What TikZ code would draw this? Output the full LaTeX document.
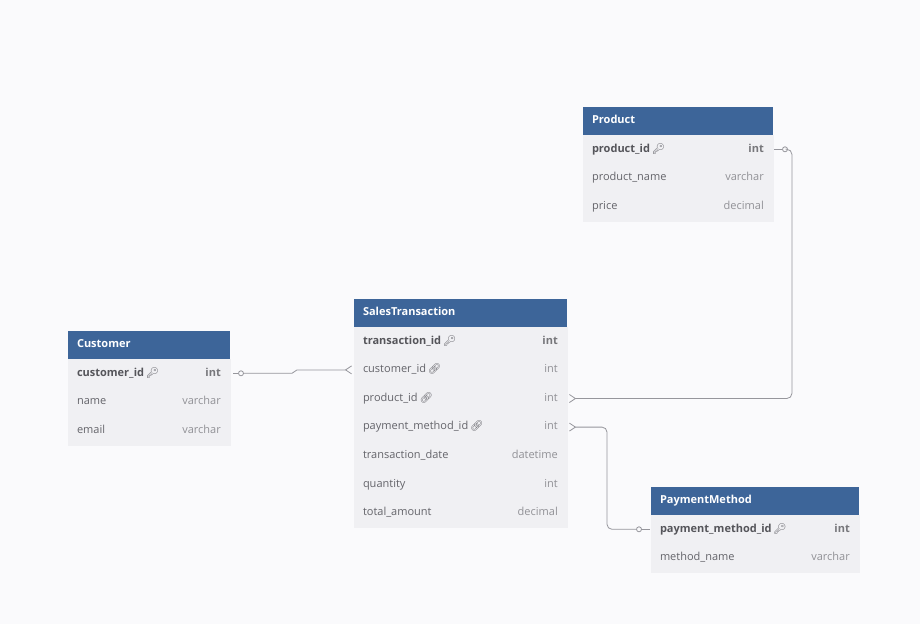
\documentclass[tikz,border=0pt]{standalone}
\usepackage{fontspec}
\setmainfont{Open Sans}
\newfontfamily\emojifont{Noto Emoji}
\usetikzlibrary{arrows.meta, positioning, calc}
\definecolor{HeadBlue}{RGB}{61, 101, 153}
\definecolor{RowGray}{RGB}{240, 240, 243}
\definecolor{PageBg}{RGB}{250, 250, 252}
\definecolor{NameGray}{RGB}{100, 100, 106}
\definecolor{KeyGray}{RGB}{85, 85, 90}
\definecolor{TypeGray}{RGB}{145, 145, 150}
\definecolor{LineGray}{RGB}{150, 150, 156}
\newcommand{\pkicon}{\,{\emojifont\fontsize{10.5}{10.5}\selectfont\color{NameGray}🔑}}
\newcommand{\fkicon}{\,{\emojifont\fontsize{10.5}{10.5}\selectfont\color{NameGray}🔗}}

\begin{document}
\begin{tikzpicture}[x=1pt, y=-1pt,
    every node/.style={font=\fontsize{11}{13}\selectfont},
    tblhead/.style={fill=HeadBlue, text=white, font=\fontsize{11}{13}\selectfont\bfseries, anchor=north west, minimum height=28pt, inner xsep=9pt, inner ysep=0pt, outer sep=0pt, align=left, text height=8pt, text depth=2.5pt, text width=#1},
    tblrow/.style={fill=RowGray, draw=RowGray, line width=0.6pt, text=NameGray, anchor=north west, minimum height=28.6pt, inner xsep=9pt, inner ysep=0pt, outer sep=0pt, align=left, text height=8pt, text depth=2.5pt, text width=#1},
    pkrow/.style={tblrow=#1, text=KeyGray, font=\fontsize{11}{13}\selectfont\bfseries},
    ftype/.style={text=TypeGray, anchor=base east, inner sep=0pt},
    pktype/.style={ftype, text=KeyGray!80, font=\fontsize{11}{13}\selectfont\bfseries},
    ocirc/.style={circle, draw=LineGray, fill=PageBg, line width=0.8pt, inner sep=0pt, minimum size=5pt},
    rel/.style={draw=LineGray, line width=0.8pt},
    crowend/.style={-{Straight Barb[reversed, length=6pt, width=8pt]}},
    crowstart/.style={{Straight Barb[reversed, length=6pt, width=8pt]}-}
]
\fill[PageBg] (0,0) rectangle (920,624);
\useasboundingbox (0,0) rectangle (920,624);

% Product
\node[tblhead=172pt] (prod) at (583,107) {Product};
\node[pkrow=172pt] (prod1) at (prod.south west) {product\_id\pkicon};
\node[tblrow=172pt] (prod2) at (prod1.south west) {product\_name};
\node[tblrow=172pt] (prod3) at (prod2.south west) {price};
\node[pktype] (prod1t) at ([xshift=-9pt]prod1.base east) {int};
\node[ftype] (prod2t) at ([xshift=-9pt]prod2.base east) {varchar};
\node[ftype] (prod3t) at ([xshift=-9pt]prod3.base east) {decimal};

% Customer
\node[tblhead=144pt] (cust) at (68,331) {Customer};
\node[pkrow=144pt] (cust1) at (cust.south west) {customer\_id\pkicon};
\node[tblrow=144pt] (cust2) at (cust1.south west) {name};
\node[tblrow=144pt] (cust3) at (cust2.south west) {email};
\node[pktype] (cust1t) at ([xshift=-9pt]cust1.base east) {int};
\node[ftype] (cust2t) at ([xshift=-9pt]cust2.base east) {varchar};
\node[ftype] (cust3t) at ([xshift=-9pt]cust3.base east) {varchar};

% SalesTransaction
\node[tblhead=195pt] (sale) at (354,299) {SalesTransaction};
\node[pkrow=195pt] (sale1) at (sale.south west) {transaction\_id\pkicon};
\node[tblrow=195pt] (sale2) at (sale1.south west) {customer\_id\fkicon};
\node[tblrow=195pt] (sale3) at (sale2.south west) {product\_id\fkicon};
\node[tblrow=195pt] (sale4) at (sale3.south west) {payment\_method\_id\fkicon};
\node[tblrow=195pt] (sale5) at (sale4.south west) {transaction\_date};
\node[tblrow=195pt] (sale6) at (sale5.south west) {quantity};
\node[tblrow=195pt] (sale7) at (sale6.south west) {total\_amount};
\node[pktype] (sale1t) at ([xshift=-9pt]sale1.base east) {int};
\node[ftype] (sale2t) at ([xshift=-9pt]sale2.base east) {int};
\node[ftype] (sale3t) at ([xshift=-9pt]sale3.base east) {int};
\node[ftype] (sale4t) at ([xshift=-9pt]sale4.base east) {int};
\node[ftype] (sale5t) at ([xshift=-9pt]sale5.base east) {datetime};
\node[ftype] (sale6t) at ([xshift=-9pt]sale6.base east) {int};
\node[ftype] (sale7t) at ([xshift=-9pt]sale7.base east) {decimal};

% PaymentMethod
\node[tblhead=190pt] (pay) at (651,487) {PaymentMethod};
\node[pkrow=190pt] (pay1) at (pay.south west) {payment\_method\_id\pkicon};
\node[tblrow=190pt] (pay2) at (pay1.south west) {method\_name};
\node[pktype] (pay1t) at ([xshift=-9pt]pay1.base east) {int};
\node[ftype] (pay2t) at ([xshift=-9pt]pay2.base east) {varchar};

% relations
\node[ocirc] (c1) at ([xshift=11pt]cust1.east) {};
\node[ocirc] (c2) at ([xshift=12pt]prod1.east) {};
\node[ocirc] (c3) at ([xshift=-12pt]pay1.west) {};
\draw[rel] ([xshift=3pt]cust1.east) -- (c1.west);
\draw[rel, crowend] (c1.east) -- ([xshift=-62pt]sale2.west |- c1.east) to[out=0, in=180] ([xshift=-57pt]sale2.west) -- ([xshift=-2pt]sale2.west);
\draw[rel] ([xshift=1pt]prod1.east) -- (c2.west);
\draw[rel, crowend, rounded corners=5pt] (c2.east) -- ++(4,0) |- ([xshift=2pt]sale3.east);
\draw[rel, crowstart, rounded corners=5pt] ([xshift=2pt]sale4.east) -- ++(38,0) |- (c3.west);
\draw[rel] (c3.east) -- ([xshift=-1pt]pay1.west);
\end{tikzpicture}
\end{document}
